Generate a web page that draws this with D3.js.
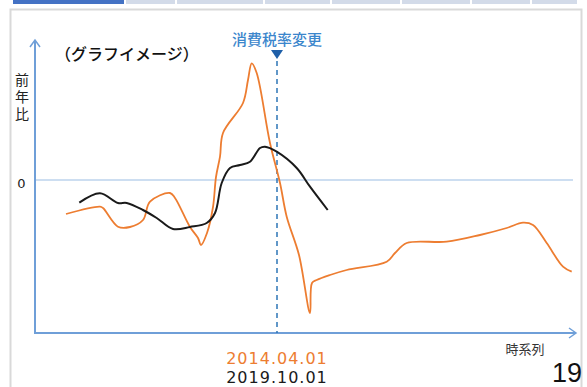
<!DOCTYPE html>
<html><head><meta charset="utf-8">
<script src="https://cdn.jsdelivr.net/npm/d3@7"></script>
<style>body{margin:0;background:#fff}svg{display:block}</style>
</head><body>
<script>
// time (arbitrary units along the time axis) and year-on-year values (arbitrary units, 0 = no change)
const orangeT = [31,65,68,83,95,108,115,135,140,155,163,166,172,178,181,185,188,208,213,216.7,221.7,235,245,251.7,264,275,277,281.7,295,311.7,351.7,360,371.7,411.7,445,471.7,488,498,511.7,528,536.7];
const orangeV = [-34,-26.7,-28,-46.7,-47,-40,-21.7,-13,-18,-47,-58,-65,-53,-27,3,23.3,47,77,100,116.7,107,37,-3,-36.7,-75,-133,-103,-100,-95,-90,-81.7,-73,-63,-61.7,-55,-48,-42.7,-45,-63,-86.7,-91.7];
const blackT = [44.3,65,83,91.7,108,121.7,138,155,171.7,180,186.7,195,205,215,225,230,241.7,261.7,275,292.7];
const blackV = [-22.7,-13.3,-23,-23,-30,-38,-49,-47,-43,-33,-3,12,15,18.3,32,33.3,28.3,12,-6.7,-30];
const eventT = 242;
const axisTexts = {yLabel:"前年比", zero:"0", xLabel:"時系列", title:"（グラフイメージ）", event:"消費税率変更", date1:"2014.04.01", date2:"2019.10.01", page:"19"};

const W=587,H=387;
const svg=d3.select("body").append("svg").attr("width",W).attr("height",H);
const x=d3.scaleLinear().domain([0,540]).range([35,575]);
const y=d3.scaleLinear().domain([-153,140]).range([333,40]);

// slide header tabs
const tabs=[[13,124,"#4472c4"],[126,175,"#d3dbe9"],[177,263,"#d3dbe9"],[265,330,"#d3dbe9"],[332,400,"#d3dbe9"],[402,470,"#d3dbe9"],[472,530,"#d3dbe9"],[532,577,"#d3dbe9"]];
svg.selectAll("rect.tab").data(tabs).join("rect").attr("x",d=>d[0]).attr("y",0).attr("width",d=>d[1]-d[0]).attr("height",4).attr("fill",d=>d[2]);
// frame
svg.append("path").attr("d","M10.5,387 V9.5 H581.5 V387").attr("fill","none").attr("stroke","#d9d9d9").attr("stroke-width",2);

// zero line
svg.append("line").attr("x1",x(0)).attr("x2",573).attr("y1",y(0)).attr("y2",y(0)).attr("stroke","#bdd3ec").attr("stroke-width",1.5);

// axes
const ax="#6f9fd8";
svg.append("line").attr("x1",x(0)).attr("x2",x(0)).attr("y1",41).attr("y2",y(-153)).attr("stroke",ax).attr("stroke-width",2);
svg.append("path").attr("d",`M${x(0)-5},47 L${x(0)},40 L${x(0)+5},47`).attr("fill","none").attr("stroke",ax).attr("stroke-width",1.5);
svg.append("line").attr("x1",x(0)-1).attr("x2",575).attr("y1",y(-153)).attr("y2",y(-153)).attr("stroke",ax).attr("stroke-width",2);
svg.append("path").attr("d",`M569,${y(-153)-5} L576,${y(-153)} L569,${y(-153)+5}`).attr("fill","none").attr("stroke",ax).attr("stroke-width",1.5);

// event dashed line
svg.append("line").attr("x1",x(eventT)).attr("x2",x(eventT)).attr("y1",61).attr("y2",y(-153)).attr("stroke","#2e75b6").attr("stroke-width",1.5).attr("stroke-dasharray","5,4");
svg.append("path").attr("d",`M${x(eventT)-6},50 L${x(eventT)+6},50 L${x(eventT)},59 Z`).attr("fill","#1f5fa8");

// lines
const line=d3.line().x(d=>x(d[0])).y(d=>y(d[1])).curve(d3.curveCatmullRom.alpha(0.5));
svg.append("path").datum(orangeT.map((t,i)=>[t,orangeV[i]])).attr("d",line).attr("fill","none").attr("stroke","#ed7d31").attr("stroke-width",1.8).attr("stroke-linejoin","round");
svg.append("path").datum(blackT.map((t,i)=>[t,blackV[i]])).attr("d",line).attr("fill","none").attr("stroke","#1a1a1a").attr("stroke-width",2).attr("stroke-linejoin","round");

// texts
const jp="'Noto Sans CJK JP','Noto Sans',sans-serif";
svg.append("text").attr("x",x(eventT)).attr("y",45).attr("text-anchor","middle").attr("font-family",jp).attr("font-size",15).attr("font-weight",500).attr("fill","#3b86cc").text(axisTexts.event);
svg.append("text").attr("x",55).attr("y",60).attr("font-family",jp).attr("font-size",16).attr("font-weight",500).attr("fill","#111").text(axisTexts.title);
svg.append("text").attr("x",22).attr("y",73).attr("font-family",jp).attr("font-size",14).attr("fill","#222")
  .style("writing-mode","vertical-rl").style("letter-spacing","3px").text(axisTexts.yLabel);
svg.append("text").attr("x",21.5).attr("y",188).attr("text-anchor","middle").attr("font-family","'DejaVu Sans',sans-serif").attr("font-size",13).attr("fill","#222").text(axisTexts.zero);
svg.append("text").attr("x",525).attr("y",354).attr("text-anchor","middle").attr("font-family",jp).attr("font-size",13).attr("fill","#333").text(axisTexts.xLabel);
svg.append("text").attr("x",x(eventT)).attr("y",364).attr("text-anchor","middle").attr("font-family","'DejaVu Sans',sans-serif").attr("font-size",16).style("letter-spacing","1px").attr("fill","#ed7d31").text(axisTexts.date1);
svg.append("text").attr("x",x(eventT)).attr("y",383).attr("text-anchor","middle").attr("font-family","'DejaVu Sans',sans-serif").attr("font-size",16).style("letter-spacing","1px").attr("fill","#1a1a1a").text(axisTexts.date2);
svg.append("text").attr("x",552).attr("y",382).attr("font-family","'Liberation Sans',sans-serif").attr("font-size",27).attr("fill","#111").text(axisTexts.page);
</script>
</body></html>
